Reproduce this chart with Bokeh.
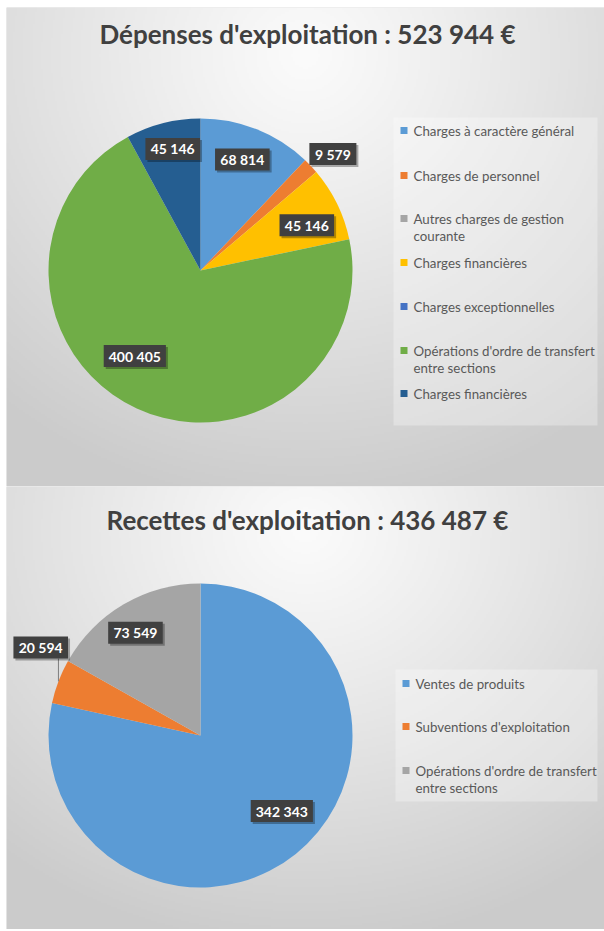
import numpy as np
from bokeh.plotting import figure
from bokeh.layouts import column
from bokeh.models import ColumnDataSource
from bokeh.core.properties import value
from bokeh.embed import file_html
from bokeh.resources import INLINE

# ---------------- data ----------------
dep_title = "Dépenses d'exploitation : 523 944 €"
dep_labels = ["Charges à caractère général", "Charges de personnel",
              "Autres charges de gestion\ncourante", "Charges financières",
              "Charges exceptionnelles", "Opérations d'ordre de transfert\nentre sections",
              "Charges financières"]
dep_values = [68814, 9579, 0, 45146, 0, 400405, 45146]
dep_colors = ["#5B9BD5", "#ED7D31", "#A5A5A5", "#FFC000", "#4472C4", "#70AD47", "#255E91"]

rec_title = "Recettes d'exploitation : 436 487 €"
rec_labels = ["Ventes de produits", "Subventions d'exploitation",
              "Opérations d'ordre de transfert\nentre sections"]
rec_values = [342343, 20594, 73549]
rec_colors = ["#5B9BD5", "#ED7D31", "#A5A5A5"]

# label placement (layout): radial factor and angle nudge (degrees) per slice
dep_lab_r = [0.78, 1.16, 0.75, 0.76, 0.75, 0.71, 0.82]
dep_lab_da = [-1.1, 2.1, 0, 3.1, 0, 12.7, 1.4]
rec_lab_r = [0.73, 1.20, 0.80]
rec_lab_da = [-8.3, 8.0, -2.0]

PAGE_W = 604
LEFT = 6
FONT = "Lato"


def gradient(w, h):
    sw, sh = w // 2, h // 2
    xs = (np.arange(sw) + 0.5) / sw
    ys = (np.arange(sh) + 0.5) / sh  # 0 bottom -> 1 top
    X, Y = np.meshgrid(xs, ys)
    cx, cy = 0.5, 0.9
    d = np.sqrt(((X - cx) / 0.8) ** 2 + ((Y - cy) / 0.95) ** 2)
    d = np.clip(d, 0, 1)
    v = (251 - 48 * d ** 1.1).astype(np.uint32)
    img = (255 << 24) | (v << 16) | (v << 8) | v
    return img.astype(np.uint32)


def fmt(v):
    return f"{v:,}".replace(",", " ")


def make_panel(top_page, bottom_page, top_border, title, labels, values, colors,
               cx, cy_page, R, lab_r, lab_da, leg_box, leg_ys, leader=False):
    # data coordinates: x = page x, y = -page y
    H = bottom_page - top_page
    fy0 = top_page + top_border  # frame top on page
    p = figure(width=PAGE_W, height=H, x_range=(LEFT, PAGE_W),
               y_range=(-bottom_page, -fy0),
               output_backend="svg", toolbar_location=None,
               min_border_left=LEFT, min_border_right=0,
               min_border_top=top_border, min_border_bottom=0,
               x_axis_type=None, y_axis_type=None)
    p.grid.visible = False
    p.outline_line_color = None
    p.background_fill_color = "#d9d9d9"
    p.border_fill_color = "white"

    fw, fh = PAGE_W - LEFT, bottom_page - fy0
    p.image_rgba(image=[gradient(fw, fh)], x=LEFT, y=-bottom_page, dw=fw, dh=fh)

    cy = -cy_page
    total = float(sum(values))
    cum = np.concatenate([[0], np.cumsum(values)]) / total * 2 * np.pi
    starts = np.pi / 2 - cum[:-1]
    ends = np.pi / 2 - cum[1:]
    keep = [i for i, v in enumerate(values) if v > 0]
    src = ColumnDataSource(dict(
        start=[starts[i] for i in keep], end=[ends[i] for i in keep],
        color=[colors[i] for i in keep]))
    p.wedge(x=cx, y=cy, radius=R, start_angle="start", end_angle="end",
            direction="clock", fill_color="color", line_color=None, source=src)

    # title
    p.text(x=[(LEFT + PAGE_W) / 2 + 2], y=[-(top_page + 33)], text=[title],
           text_font=value(FONT), text_font_style="bold", text_font_size="26px",
           text_color="#404040", text_align="center", text_baseline="middle")

    # data labels
    lx, ly, lt, lw = [], [], [], []
    for i in keep:
        mid = (cum[i] + cum[i + 1]) / 2 + np.deg2rad(lab_da[i])
        r = R * lab_r[i]
        x = cx + r * np.sin(mid)
        y = cy + r * np.cos(mid)
        t = fmt(values[i])
        lx.append(x); ly.append(y); lt.append(t)
        lw.append(len(t) * 7.6 + 9)
        if leader and lab_r[i] > 1:
            amid = (cum[i] + cum[i + 1]) / 2
            ex = cx + R * np.sin(amid)
            ey = cy + R * np.cos(amid)
            p.segment(x0=[ex], y0=[ey], x1=[ex], y1=[y - 11],
                      line_color="#7f7f7f", line_width=1)
    p.rect(x=[x + 2 for x in lx], y=[y - 2 for y in ly], width=lw, height=22,
           width_units="screen", height_units="screen",
           fill_color="black", fill_alpha=0.3, line_color=None)
    p.rect(x=lx, y=ly, width=lw, height=22, width_units="screen",
           height_units="screen", fill_color="#404040", line_color=None)
    p.text(x=lx, y=ly, text=lt, text_font=value(FONT), text_font_style="bold",
           text_font_size="14px", text_color="white", text_align="center",
           text_baseline="middle")

    # legend box
    x0, x1, t0, t1 = leg_box
    p.quad(left=x0, right=x1, top=-t0, bottom=-t1,
           fill_color="white", fill_alpha=0.3, line_color=None)
    sx, sy, tx, ty, tt = [], [], [], [], []
    for lab, col, yt in zip(labels, colors, leg_ys):
        sx.append(x0 + 10.5)
        sy.append(-yt)
        for k, line in enumerate(lab.split("\n")):
            tx.append(x0 + 20)
            ty.append(-yt - 17 * k)
            tt.append(line)
    p.rect(x=sx, y=sy, width=7, height=7, width_units="screen",
           height_units="screen", fill_color=colors, line_color=None)
    p.text(x=tx, y=ty, text=tt, text_font=value(FONT), text_font_size="13.3px",
           text_color="#595959", text_align="left", text_baseline="middle")
    return p


p1 = make_panel(0, 486, 7, dep_title, dep_labels, dep_values, dep_colors,
                cx=200, cy_page=270, R=152, lab_r=dep_lab_r, lab_da=dep_lab_da,
                leg_box=(393, 597, 117, 425),
                leg_ys=[130, 175, 218, 262, 306, 350, 393])
p2 = make_panel(486, 929, 0, rec_title, rec_labels, rec_values, rec_colors,
                cx=200, cy_page=735, R=152, lab_r=rec_lab_r, lab_da=rec_lab_da,
                leg_box=(395, 597, 669, 801), leg_ys=[683, 726, 770],
                leader=True)

layout = column(p1, p2, spacing=0)
open("out.html", "w").write(file_html(layout, INLINE))
